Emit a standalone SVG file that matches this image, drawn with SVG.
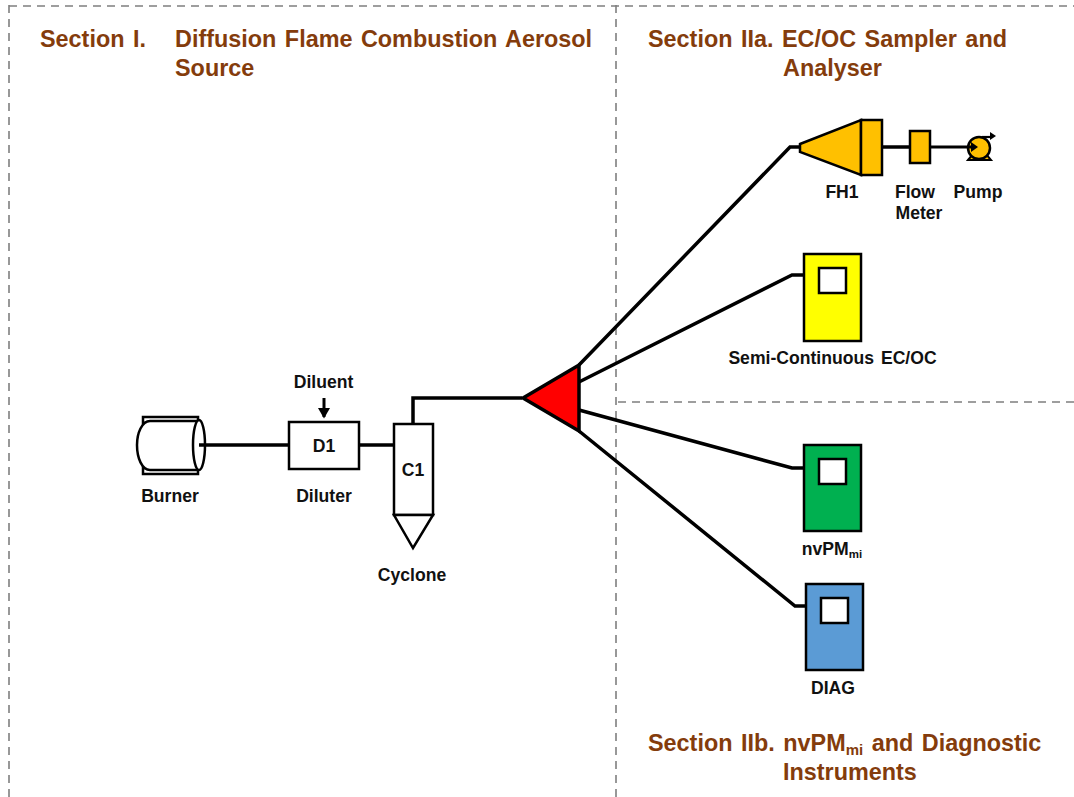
<svg xmlns="http://www.w3.org/2000/svg" width="1074" height="797" viewBox="0 0 1074 797">
<style>
text{font-family:"Liberation Sans",Arial,sans-serif;font-weight:bold}
.h{font-size:23.4px;fill:#843c0c;word-spacing:2px}
.l{font-size:17.6px;fill:#111;text-anchor:middle}
.s{stroke:#000;stroke-width:2.5;fill:#fff}
.c{stroke:#000;stroke-width:3.5;fill:none;stroke-linejoin:miter}
.d{stroke:#7f7f7f;stroke-width:1.6;fill:none;stroke-dasharray:8 6}
.o{fill:#ffc000;stroke:#000;stroke-width:2.5}
</style>
<defs><marker id="a" markerWidth="4" markerHeight="4" refX="3" refY="2" orient="auto"><path d="M0 0L3.5 2L0 4Z" fill="#000"/></marker></defs>
<g id="dividers">
<path class="d" d="M9 5V797M616 5V797M9 6H1074M618 402H1074"/>
</g>
<g id="burner">
<path class="s" d="M143 417H198V423H143ZM143 468H198V474H143Z"/>
<path class="s" d="M198 421H150C142 421 137 433 137 445C137 458 142 470 150 470H198"/>
<ellipse class="s" cx="199" cy="445" rx="6" ry="25"/>
<text class="l" x="170" y="501.5">Burner</text>
</g>
<g id="connectors">
<path class="c" d="M199 445H289"/>
<path class="c" d="M360 445H393"/>
<path class="c" d="M413 424V398H522"/>
<path class="c" d="M579 365L790 147H800"/>
<path class="c" d="M579 382L792 275H804"/>
<path class="c" d="M579 410L792 468H804"/>
<path class="c" d="M579 431L795 606H806"/>
<path class="c" d="M882 147H909"/>
<path class="c" style="stroke-width:3" d="M931 147H972"/>
<path class="c" style="stroke-width:3" d="M324 398V417" marker-end="url(#a)"/>
</g>
<g id="diluter">
<rect class="s" x="289" y="422" width="70" height="47"/>
<text class="l" x="324" y="451.5">D1</text>
<text class="l" x="323.5" y="388">Diluent</text>
<text class="l" x="324" y="501.5">Diluter</text>
</g>
<g id="cyclone">
<rect class="s" x="394" y="424" width="39" height="91"/>
<path class="s" d="M394 515H433L413 548Z"/>
<text class="l" x="413" y="476">C1</text>
<text class="l" x="412" y="581">Cyclone</text>
</g>
<g id="splitter">
<path d="M523 398L579 365V431Z" fill="#f00" stroke="#000" stroke-width="3.5"/>
</g>
<g id="fh1">
<path class="o" d="M800 144L861 120V175L800 152Z"/>
<rect class="o" x="861" y="120" width="21" height="55"/>
<text class="l" x="842" y="197.5">FH1</text>
</g>
<g id="flowmeter">
<rect class="o" x="910" y="131" width="20" height="32"/>
<text class="l" x="915" y="197.5">Flow</text>
<text class="l" x="919" y="218.5">Meter</text>
</g>
<g id="pump">
<path d="M968 160L973 154H986L991 160Z" fill="#ffc000" stroke="#000" stroke-width="2"/>
<path d="M982 137H991" stroke="#000" stroke-width="2.2" fill="none"/>
<circle class="o" cx="979" cy="148" r="11"/>
<path d="M990 132L996 136L990 140Z" fill="#000"/>
<path d="M971 142L978 147L971 152Z" fill="#000"/>
<path d="M968 147H973" stroke="#000" stroke-width="3"/>
<text class="l" x="978" y="197.5">Pump</text>
</g>
<g id="semi">
<rect x="804" y="254" width="57" height="87" fill="#ff0" stroke="#000" stroke-width="2.5"/>
<rect class="s" x="819" y="268" width="27" height="25"/>
<text class="l" x="832.5" y="363.5" style="word-spacing:2px">Semi-Continuous EC/OC</text>
</g>
<g id="nvpm">
<rect x="804" y="445" width="57" height="86" fill="#00b050" stroke="#000" stroke-width="2.5"/>
<rect class="s" x="819" y="459" width="27" height="25"/>
<text class="l" x="832" y="554.5">nvPM<tspan font-size="11.5" dy="3">mi</tspan></text>
</g>
<g id="diag">
<rect x="806" y="584" width="57" height="86" fill="#5b9bd5" stroke="#000" stroke-width="2.5"/>
<rect class="s" x="821" y="598" width="27" height="25"/>
<text class="l" x="833" y="693.5">DIAG</text>
</g>
<g id="headings">
<text class="h" x="40" y="47">Section I.</text>
<text class="h" x="175" y="47">Diffusion Flame Combustion Aerosol</text>
<text class="h" x="175" y="76">Source</text>
<text class="h" x="648" y="47">Section IIa. EC/OC Sampler and</text>
<text class="h" x="783" y="76">Analyser</text>
<text class="h" x="648" y="751">Section IIb. nvPM<tspan font-size="15" dy="4">mi</tspan><tspan dy="-4"> and Diagnostic</tspan></text>
<text class="h" x="783" y="780">Instruments</text>
</g>
</svg>
